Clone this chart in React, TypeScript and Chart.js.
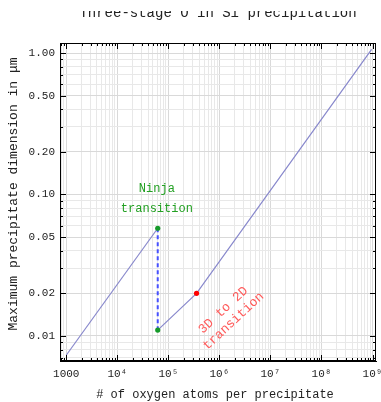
import React, { useEffect, useRef } from 'react';
import { Chart, registerables } from 'chart.js';

Chart.register(...registerables);

const TITLE = 'Three-stage O in Si precipitation';
const X_TITLE = '# of oxygen atoms per precipitate';
const Y_TITLE = 'Maximum precipitate dimension in μm';

// Series
const stage1X = [1000, 62000];
const stage1Y = [0.0073, 0.0577];
const ninjaX = [62000, 62000];
const ninjaY = [0.0577, 0.011];
const stage23X = [62000, 357000, 9.6e8];
const stage23Y = [0.011, 0.02, 1.06];
const greenX = [62000, 62000];
const greenY = [0.0577, 0.011];
const redX = [357000];
const redY = [0.02];

// Axes
const xMin = 755;
const xMax = 1.17e9;
const yMin = 0.00665;
const yMax = 1.177;
const xLabelValues = [1e3, 1e4, 1e5, 1e6, 1e7, 1e8, 1e9];
const xTickLabels = ['1000', '10⁴', '10⁵', '10⁶', '10⁷', '10⁸', '10⁹'];
const yLabelValues = [0.01, 0.02, 0.05, 0.1, 0.2, 0.5, 1];
const yTickLabels = ['0.01', '0.02', '0.05', '0.10', '0.20', '0.50', '1.00'];

// Annotations
const ninjaText = ['Ninja', 'transition'];
const ninjaAnchor = { x: 59600, y: 0.0925 };
const dText = ['3D to 2D', 'transition'];
const dAnchor = { x: 1.5e6, y: 0.0139 };

const FONT = '"Liberation Mono", "DejaVu Sans Mono", monospace';

function logTicks(min: number, max: number): number[] {
  const out: number[] = [];
  for (let e = Math.floor(Math.log10(min)); e <= Math.ceil(Math.log10(max)); e++) {
    for (let m = 1; m <= 9; m++) {
      const v = m * Math.pow(10, e);
      if (v >= min && v <= max) out.push(v);
    }
  }
  return out;
}
const xTickVals = logTicks(xMin, xMax);
const yTickVals = logTicks(yMin, yMax);

const near = (a: number, b: number) => Math.abs(a / b - 1) < 1e-6;
const idxOf = (arr: number[], v: number) => arr.findIndex((a) => near(a, v));

const zip = (xs: number[], ys: number[]) => xs.map((x, i) => ({ x, y: ys[i] }));

const decorPlugin = {
  id: 'decor',
  afterDraw(chart: any) {
    const { ctx, chartArea: a, scales } = chart;
    const x = scales.x;
    const y = scales.y;
    ctx.save();
    // inner ticks
    ctx.strokeStyle = '#000';
    ctx.lineWidth = 1;
    ctx.beginPath();
    for (const v of xTickVals) {
      const px = Math.round(x.getPixelForValue(v)) + 0.5;
      const L = idxOf(xLabelValues, v) >= 0 ? 6 : 3;
      ctx.moveTo(px, a.bottom);
      ctx.lineTo(px, a.bottom - L);
      ctx.moveTo(px, a.top);
      ctx.lineTo(px, a.top + L);
    }
    for (const v of yTickVals) {
      const py = Math.round(y.getPixelForValue(v)) + 0.5;
      const L = idxOf(yLabelValues, v) >= 0 ? 6 : 3;
      ctx.moveTo(a.left, py);
      ctx.lineTo(a.left + L, py);
      ctx.moveTo(a.right, py);
      ctx.lineTo(a.right - L, py);
    }
    ctx.stroke();
    ctx.strokeRect(Math.round(a.left) + 0.5, Math.round(a.top) + 0.5, Math.round(a.right - a.left) - 1, Math.round(a.bottom - a.top) - 1);

    // title (top clipped as in reference)
    ctx.save();
    ctx.beginPath();
    ctx.rect(0, 11, chart.width, chart.height);
    ctx.clip();
    ctx.fillStyle = '#222';
    ctx.font = `14px ${FONT}`;
    ctx.textAlign = 'center';
    ctx.textBaseline = 'alphabetic';
    ctx.fillText(TITLE, (a.left + a.right) / 2, 17);
    ctx.restore();

    // axis titles
    ctx.fillStyle = '#222';
    ctx.textAlign = 'center';
    ctx.textBaseline = 'middle';
    ctx.font = `12px ${FONT}`;
    ctx.fillText(X_TITLE, (a.left + a.right) / 2 - 3, 395);
    ctx.save();
    ctx.translate(14, (a.top + a.bottom) / 2 - 8);
    ctx.rotate(-Math.PI / 2);
    ctx.font = `13px ${FONT}`;
    ctx.fillText(Y_TITLE, 0, 0);
    ctx.restore();

    // Ninja annotation
    ctx.fillStyle = '#22a022';
    ctx.font = `12px ${FONT}`;
    ctx.textAlign = 'center';
    ctx.textBaseline = 'middle';
    const nx = x.getPixelForValue(ninjaAnchor.x);
    const ny = y.getPixelForValue(ninjaAnchor.y);
    ctx.fillText(ninjaText[0], nx, ny - 10);
    ctx.fillText(ninjaText[1], nx, ny + 10);

    // 3D to 2D annotation
    const dx = x.getPixelForValue(dAnchor.x);
    const dy = y.getPixelForValue(dAnchor.y);
    ctx.save();
    ctx.translate(dx, dy);
    ctx.rotate((-43 * Math.PI) / 180);
    ctx.fillStyle = '#ff5a5a';
    ctx.font = `13px ${FONT}`;
    ctx.fillText(dText[0], 0, -7.5);
    ctx.fillText(dText[1], 0, 7.5);
    ctx.restore();

    ctx.restore();
  },
};

export default function App() {
  const ref = useRef<HTMLCanvasElement | null>(null);
  useEffect(() => {
    document.body.style.margin = '0';
    const canvas = ref.current;
    if (!canvas) return;
    const lineColor = 'rgb(136,136,204)';
    const zeroPad = (s: any) => {
      s.paddingLeft = 0;
      s.paddingRight = 0;
      s.paddingTop = 0;
      s.paddingBottom = 0;
    };
    const chart = new Chart(canvas, {
      type: 'scatter',
      data: {
        datasets: [
          {
            data: zip(redX, redY),
            showLine: false,
            pointRadius: 2.6,
            pointBackgroundColor: '#ff0000',
            pointBorderColor: '#ff0000',
            pointBorderWidth: 0,
          },
          {
            data: zip(greenX, greenY),
            showLine: false,
            pointRadius: 2.6,
            pointBackgroundColor: '#169a2a',
            pointBorderColor: '#169a2a',
            pointBorderWidth: 0,
          },
          {
            data: zip(ninjaX, ninjaY),
            showLine: true,
            borderColor: 'rgb(70,80,255)',
            borderWidth: 2,
            borderDash: [4, 3],
            pointRadius: 0,
          },
          {
            data: zip(stage1X, stage1Y),
            showLine: true,
            borderColor: lineColor,
            borderWidth: 1.2,
            pointRadius: 0,
          },
          {
            data: zip(stage23X, stage23Y),
            showLine: true,
            borderColor: lineColor,
            borderWidth: 1.2,
            pointRadius: 0,
          },
        ],
      },
      options: {
        animation: false,
        responsive: false,
        devicePixelRatio: 1,
        layout: { padding: { top: 43, right: 5, left: 0, bottom: 0 } },
        plugins: { legend: { display: false }, tooltip: { enabled: false }, title: { display: false } },
        scales: {
          x: {
            type: 'logarithmic',
            bounds: 'data',
            min: xMin,
            max: xMax,
            afterBuildTicks: (s: any) => {
              s.ticks = xTickVals.map((v) => ({ value: v }));
            },
            afterFit: (s: any) => {
              s.height = 41;
              zeroPad(s);
            },
            ticks: {
              autoSkip: false,
              maxRotation: 0,
              padding: 6,
              color: '#222',
              font: { family: FONT, size: 11 },
              callback: (v: any) => {
                const i = idxOf(xLabelValues, Number(v));
                return i >= 0 ? xTickLabels[i] : '';
              },
            },
            grid: {
              drawTicks: false,
              color: (c: any) => (c.tick && idxOf(xLabelValues, c.tick.value) >= 0 ? '#d9d9d9' : '#e8e8e8'),
            },
            border: { display: true, color: '#000' },
            title: { display: false },
          },
          y: {
            type: 'logarithmic',
            bounds: 'data',
            min: yMin,
            max: yMax,
            afterBuildTicks: (s: any) => {
              s.ticks = yTickVals.map((v) => ({ value: v }));
            },
            afterFit: (s: any) => {
              s.width = 60;
              zeroPad(s);
            },
            ticks: {
              autoSkip: false,
              padding: 5,
              color: '#222',
              font: { family: FONT, size: 11 },
              callback: (v: any) => {
                const i = idxOf(yLabelValues, Number(v));
                return i >= 0 ? yTickLabels[i] : '';
              },
            },
            grid: {
              drawTicks: false,
              color: (c: any) => (c.tick && idxOf(yLabelValues, c.tick.value) >= 0 ? '#d9d9d9' : '#e8e8e8'),
            },
            border: { display: true, color: '#000' },
            title: { display: false },
          },
        },
      },
      plugins: [decorPlugin],
    } as any);
    return () => chart.destroy();
  }, []);
  return <canvas ref={ref} width={381} height={402} style={{ display: 'block', width: 381, height: 402 }} />;
}
